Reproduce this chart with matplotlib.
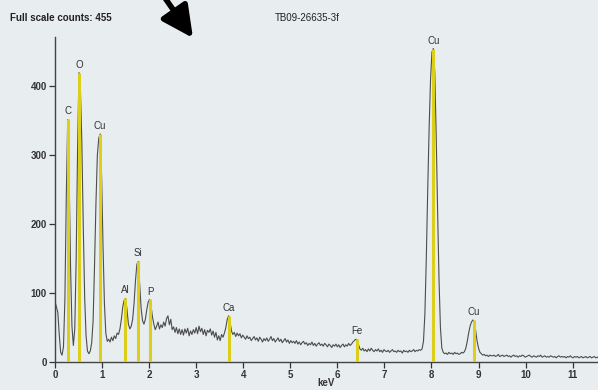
import numpy as np
import matplotlib
matplotlib.use('Agg')
import matplotlib.pyplot as plt

# EDS spectrum, TB09-26635-3f
# counts per channel, channel width 0.03 keV, starting at 0 keV
channel_kev = 0.03
counts = [
    88, 80, 72, 40, 14, 10, 22, 90, 240, 352,           # 0.00
    270, 140, 52, 24, 48, 150, 310, 420, 395, 320,      # 0.30
    200, 95, 38, 16, 12, 16, 28, 60, 140, 230,          # 0.60
    300, 325, 331, 270, 170, 85, 42, 30, 33, 29,        # 0.90
    36, 31, 38, 34, 42, 40, 48, 62, 80, 90,             # 1.20
    92, 76, 55, 48, 52, 62, 85, 118, 142, 146,          # 1.50
    112, 78, 60, 55, 62, 76, 87, 91, 82, 66,            # 1.80
    55, 47, 52, 58, 48, 54, 50, 58, 52, 63,             # 2.10
    67, 54, 62, 47, 51, 43, 50, 41, 48, 40,             # 2.40
    47, 39, 48, 42, 49, 38, 45, 40, 47, 42,             # 2.70
    50, 41, 52, 44, 49, 40, 47, 38, 46, 43,             # 3.00
    48, 39, 45, 36, 43, 32, 38, 31, 40, 36,             # 3.30
    42, 50, 62, 67, 58, 45, 40, 43, 37, 42,             # 3.60
    38, 41, 35, 39, 36, 33, 38, 34, 36, 31,             # 3.90
    34, 37, 32, 35, 30, 36, 33, 29, 34, 31,             # 4.20
    35, 30, 33, 37, 31, 34, 29, 32, 35, 30,             # 4.50
    33, 28, 31, 34, 29, 32, 27, 31, 28, 30,             # 4.80
    27, 31, 26, 29, 25, 28, 30, 26, 28, 24,             # 5.10
    27, 25, 29, 24, 27, 23, 26, 28, 24, 26,             # 5.40
    23, 27, 25, 22, 26, 24, 21, 25, 23, 26,             # 5.70
    22, 25, 21, 24, 26, 22, 25, 23, 27, 24,             # 6.00
    26, 29, 31, 33, 32, 25, 19, 17, 20, 16,             # 6.30
    18, 15, 19, 16, 20, 17, 15, 18, 16, 19,             # 6.60
    15, 17, 14, 18, 16, 15, 17, 14, 16, 18,             # 6.90
    15, 16, 14, 17, 15, 16, 13, 17, 15, 16,             # 7.20
    14, 17, 15, 16, 18, 15, 17, 16, 18, 17,             # 7.50
    19, 30, 70, 150, 250, 340, 410, 450, 455, 420,      # 7.80
    330, 220, 120, 50, 20, 14, 12, 13, 11, 14,          # 8.10
    12, 13, 11, 14, 12, 13, 11, 12, 14, 13,             # 8.40
    15, 20, 30, 42, 52, 58, 61, 58, 45, 30,             # 8.70
    20, 14, 12, 10, 11, 9, 10, 8, 10, 9,                # 9.00
    9, 10, 8, 9, 11, 8, 9, 10, 8, 9,                    # 9.30
    10, 8, 9, 7, 9, 10, 8, 9, 7, 9,                     # 9.60
    8, 10, 9, 7, 8, 9, 10, 8, 7, 9,                     # 9.90
    8, 7, 9, 8, 10, 7, 8, 9, 7, 8,                      # 10.20
    7, 9, 8, 7, 8, 6, 8, 9, 7, 8,                       # 10.50
    7, 8, 6, 8, 7, 9, 7, 6, 8, 7,                       # 10.80
    8, 6, 7, 8, 6, 7, 8, 6, 7, 8,                       # 11.10
    6, 7, 8, 6, 7, 6,                                   # 11.40
]

# peak markers
elements = ['C', 'O', 'Cu', 'Al', 'Si', 'P', 'Ca', 'Fe', 'Cu', 'Cu']
line_kev = [0.27, 0.517, 0.95, 1.495, 1.757, 2.02, 3.70, 6.42, 8.04, 8.90]
line_height = [353, 420, 331, 93, 147, 91, 67, 33, 455, 61]

x_ticks = list(range(0, 12))
y_ticks = [0, 100, 200, 300, 400]

fam = ['Liberation Sans Narrow', 'Liberation Sans', 'DejaVu Sans']
bg = '#e8edef'

energy = np.arange(len(counts)) * channel_kev

fig = plt.figure(figsize=(5.98, 3.90), dpi=100, facecolor=bg)
ax = fig.add_axes([55 / 598, 28 / 390, 543 / 598, 325 / 390])
ax.set_facecolor(bg)

ax.plot(energy, counts, color='#4d4d4d', lw=0.8, zorder=2)
ax.vlines(line_kev, 0, line_height, color='#dccf1a', lw=2.2, zorder=3)
for el, xk, h in zip(elements, line_kev, line_height):
    ax.annotate(el, (xk, h), xytext=(0, 2), textcoords='offset points',
                ha='center', va='bottom', fontsize=7, color='#333333', family=fam)

ax.set_xlim(0, 543 / 47.06)
ax.set_ylim(0, 325 / 0.689)
ax.set_xticks(x_ticks)
ax.set_yticks(y_ticks)
ax.tick_params(direction='out', length=4, width=0.9, color='#333333',
               labelsize=7, labelcolor='#333333', pad=2)
for lab in ax.get_xticklabels() + ax.get_yticklabels():
    lab.set_family(fam)
    lab.set_fontweight('bold')
for s in ['top', 'right']:
    ax.spines[s].set_visible(False)
for s in ['left', 'bottom']:
    ax.spines[s].set_color('#444444')
    ax.spines[s].set_linewidth(1.0)

fig.text(10 / 598, 1 - 18 / 390, 'Full scale counts: 455', ha='left', va='center',
         fontsize=7, fontweight='bold', color='#222222', family=fam)
fig.text(275 / 598, 1 - 18 / 390, 'TB09-26635-3f', ha='left', va='center',
         fontsize=7, color='#222222', family=fam)
fig.text(326 / 598, 1 - 383 / 390, 'keV', ha='center', va='center',
         fontsize=7, fontweight='bold', color='#333333', family=fam)

# arrow pointing at the spectrum
ax.annotate('', xy=(193, 390 - 38), xycoords='figure pixels',
            xytext=(165, 392), textcoords='figure pixels',
            arrowprops=dict(arrowstyle='-|>,head_length=1.9,head_width=0.95',
                            color='black', lw=4, shrinkA=0, shrinkB=0),
            annotation_clip=False)

fig.savefig('out.png', dpi=100, facecolor=bg)
